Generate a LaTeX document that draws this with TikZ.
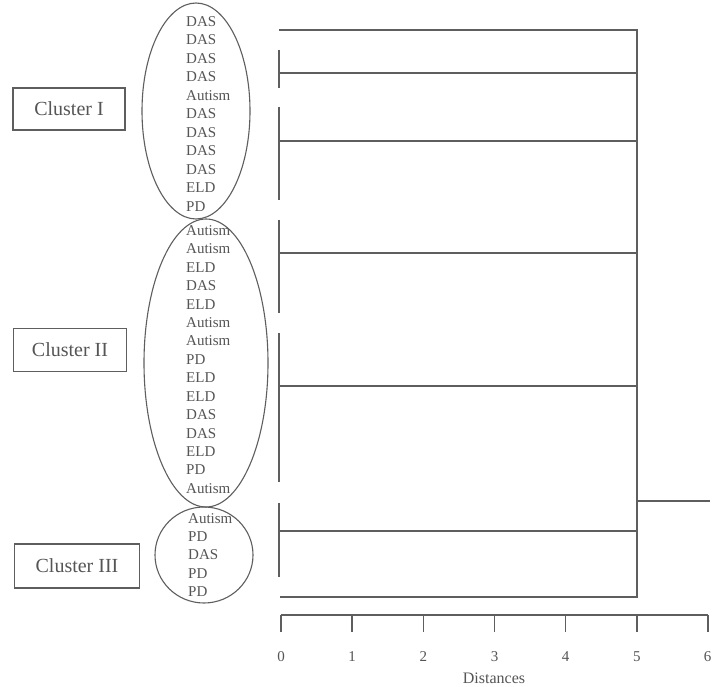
\documentclass[tikz,border=0pt]{standalone}
\usepackage{fontspec}
\setmainfont{Liberation Serif}
\usetikzlibrary{shapes.geometric}
\definecolor{ink}{HTML}{5E5E5E}
\definecolor{txt}{HTML}{555555}
\begin{document}
\begin{tikzpicture}[x=1pt,y=-1pt,
  lab/.style={anchor=west, inner sep=0pt, text height=0.66em, text depth=0pt,
              font=\fontsize{15}{15}\selectfont, text=txt},
  clus/.style={ellipse, draw=ink, line width=1.1pt, inner sep=0pt},
  cbox/.style={draw=ink, line width=1.1pt, font=\fontsize{20}{20}\selectfont,
               text=txt, inner sep=0pt},
  dline/.style={draw=ink, line width=1.4pt},
  ticklab/.style={font=\fontsize{15}{15}\selectfont, text=txt, inner sep=0pt}]
\useasboundingbox (0,0) rectangle (713,687);
\fill[white] (0,0) rectangle (713,687);

% leaf labels
\foreach \t [count=\i from 0] in {DAS,DAS,DAS,DAS,Autism,DAS,DAS,DAS,DAS,ELD,PD}
  \node[lab] (a\i) at (186, 23+18.5*\i) {\t};
\foreach \t [count=\i from 0] in {Autism,Autism,ELD,DAS,ELD,Autism,Autism,PD,ELD,ELD,DAS,DAS,ELD,PD,Autism}
  \node[lab] (b\i) at (186, 232+18.43*\i) {\t};
\foreach \t [count=\i from 0] in {Autism,PD,DAS,PD,PD}
  \node[lab] (c\i) at (188, 520+18.25*\i) {\t};

% cluster ellipses
\node[clus, minimum width=108pt, minimum height=216pt] (e1) at (196,111) {};
\node[clus, minimum width=124pt, minimum height=288pt] (e2) at (206,363) {};
\node[clus, minimum width=98pt, minimum height=96pt] (e3) at (204,555) {};

% cluster boxes
\node[cbox, minimum width=112pt, minimum height=42pt] (k1) at (69,109) {Cluster I};
\node[cbox, minimum width=113pt, minimum height=43pt] (k2) at (70,350) {Cluster II};
\node[cbox, minimum width=125pt, minimum height=44pt] (k3) at (77,566) {Cluster III};

% dendrogram
\coordinate (tl) at (279,30);  \coordinate (tr) at (637,30);
\coordinate (bl) at (280,597); \coordinate (br) at (637,597);
\draw[dline] (tl) -- (tr) -- (br) -- (bl);
\foreach \y in {73,141,253,386,531}{
  \coordinate (hl\y) at (279,\y); \coordinate (hr\y) at (637,\y);
  \draw[dline] (hl\y) -- (hr\y);
}
\foreach \ya/\yb [count=\k] in {50/88,107/200,220/313,333/482,503/577}{
  \coordinate (va\k) at (279,\ya); \coordinate (vb\k) at (279,\yb);
  \draw[dline] (va\k) -- (vb\k);
}
\coordinate (s0) at (637,501); \coordinate (s1) at (710,501);
\draw[dline] (s0) -- (s1);

% axis
\coordinate (ax0) at (281,615); \coordinate (ax6) at (708,615);
\draw[dline] (ax0) -- (ax6);
\foreach \k in {0,...,6}{
  \coordinate (tk\k) at (281+71.17*\k,615);
  \coordinate (tb\k) at (281+71.17*\k,632);
  \draw[dline] (tk\k) -- (tb\k);
}
\foreach \k in {0,...,5}
  \node[ticklab] (n\k) at (281+71.17*\k,657) {\k};
\node[ticklab] (n6) at (707.5,657) {6};
\node[ticklab, font=\fontsize{16}{16}\selectfont] (dist) at (494,678) {Distances};
\end{tikzpicture}
\end{document}
